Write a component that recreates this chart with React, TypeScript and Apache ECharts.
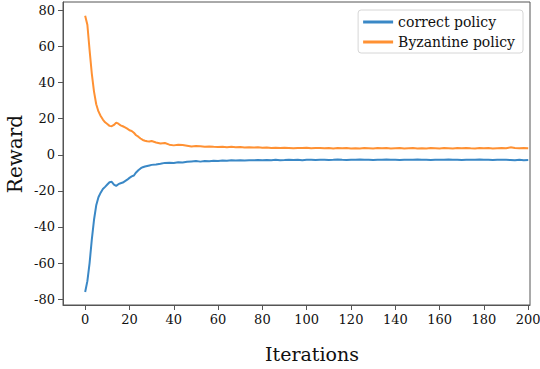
import React, { useEffect, useRef } from "react";
import * as echarts from "echarts";

const iterations = [
  0, 1, 2, 3, 4, 5, 6, 7, 8, 9, 10, 11, 12, 13, 14, 15, 16, 17, 18, 19, 20,
  21, 22, 23, 24, 25, 26, 27, 28, 29, 30, 32, 34, 36, 38, 40, 42, 44, 46, 48,
  50, 52, 54, 56, 58, 60, 62, 64, 66, 68, 70, 72, 74, 76, 78, 80, 82, 84, 86,
  88, 90, 92, 94, 96, 98, 100, 102, 104, 106, 108, 110, 112, 114, 116, 118,
  120, 122, 124, 126, 128, 130, 132, 134, 136, 138, 140, 142, 144, 146, 148,
  150, 152, 154, 156, 158, 160, 162, 164, 166, 168, 170, 172, 174, 176, 178,
  180, 182, 184, 186, 188, 190, 192, 194, 196, 198, 200,
];

const correctPolicy = [
  -76, -70, -60, -47, -36, -28, -23.5, -21, -19, -17.8, -16.5, -15.2, -15.0,
  -16.5, -17.2, -16.3, -15.8, -15.4, -14.6, -13.8, -12.8, -12, -11.5, -9.8,
  -8.6, -7.6, -6.9, -6.5, -6.2, -5.9, -5.6, -5.4, -5.0, -4.5, -4.4, -4.6,
  -4.2, -4.3, -3.9, -3.7, -3.5, -3.8, -3.4, -3.6, -3.3, -3.5, -3.2, -3.3,
  -3.0, -3.2, -3.1, -3.2, -3.0, -3.1, -2.9, -3.1, -2.9, -3.0, -2.8, -3.0,
  -2.9, -2.7, -2.9, -2.8, -3.0, -2.8, -2.7, -2.9, -2.8, -2.7, -2.9, -2.8,
  -2.6, -2.8, -2.9, -2.7, -2.8, -2.6, -2.8, -2.7, -2.9, -2.7, -2.8, -2.6,
  -2.8, -2.7, -2.9, -2.7, -2.8, -2.7, -2.6, -2.8, -2.7, -2.9, -2.8, -2.7,
  -2.8, -2.6, -2.8, -2.7, -2.9, -2.8, -2.7, -2.8, -2.6, -2.8, -2.7, -2.9,
  -2.8, -2.7, -2.8, -2.9, -3.1, -2.8, -3.0, -2.9,
];

const byzantinePolicy = [
  77, 72, 58, 45, 35, 28, 24, 21.5, 19.5, 18, 17, 16, 15.8, 16.5, 17.8, 17.2,
  16.3, 15.8, 15.2, 14.5, 13.6, 13.2, 12.2, 10.8, 10, 9, 8.2, 7.8, 7.5, 7.3,
  7.6, 6.8, 6.2, 6.5, 5.6, 5.2, 5.6, 5.4, 5.0, 4.6, 4.8, 4.7, 4.4, 4.6, 4.4,
  4.3, 4.5, 4.2, 4.4, 4.1, 4.3, 4.0, 4.2, 4.0, 4.1, 3.9, 4.0, 3.8, 3.9, 3.7,
  3.9, 3.8, 3.6, 3.8, 3.7, 3.9, 3.6, 3.7, 3.8, 3.6, 3.7, 3.5, 3.7, 3.6, 3.8,
  3.5, 3.6, 3.5, 3.7, 3.6, 3.5, 3.7, 3.6, 3.8, 3.5, 3.6, 3.7, 3.5, 3.6, 3.7,
  3.5, 3.6, 3.5, 3.7, 3.6, 3.5, 3.7, 3.6, 3.5, 3.7, 3.6, 3.8, 3.6, 3.5, 3.7,
  3.6, 3.7, 3.5, 3.6, 3.7, 3.6, 4.1, 3.7, 3.6, 3.7, 3.6,
];

const xTicks = [0, 20, 40, 60, 80, 100, 120, 140, 160, 180, 200];
const yTicks = [-80, -60, -40, -20, 0, 20, 40, 60, 80];

const FONT = "DejaVu Serif";
const AXIS_COLOR = "#555";

export default function App() {
  const ref = useRef<HTMLDivElement>(null);

  useEffect(() => {
    if (!ref.current) return;
    const chart = echarts.init(ref.current, null, { renderer: "svg" });
    const pairs = (ys: number[]) => iterations.map((x, i) => [x, ys[i]]);
    chart.setOption({
      animation: false,
      backgroundColor: "#fff",
      grid: {
        left: 63,
        top: 2,
        right: 10,
        bottom: 64,
        containLabel: false,
        outerBoundsMode: "none",
        show: true,
        borderColor: AXIS_COLOR,
        borderWidth: 1,
        backgroundColor: "transparent",
      },
      legend: {
        orient: "vertical",
        right: 17,
        top: 10,
        padding: [5, 8, 4, 5],
        itemGap: 6,
        itemWidth: 30,
        itemHeight: 3,
        borderColor: "#d6d6d6",
        borderWidth: 1,
        borderRadius: 3,
        icon: "rect",
        textStyle: { fontFamily: FONT, fontSize: 14, color: "#111" },
        data: ["correct policy", "Byzantine policy"],
      },
      xAxis: {
        type: "value",
        min: -10,
        max: 200.8,
        splitLine: { show: false },
        axisLine: { show: true, onZero: false, lineStyle: { color: AXIS_COLOR } },
        axisTick: {
          show: true,
          length: 5,
          customValues: xTicks,
          lineStyle: { color: AXIS_COLOR },
        },
        axisLabel: {
          customValues: xTicks,
          fontFamily: FONT,
          fontSize: 13,
          color: "#111",
          margin: 8,
          hideOverlap: false,
        },
      },
      yAxis: {
        type: "value",
        min: -83.2,
        max: 84.6,
        splitLine: { show: false },
        axisLine: { show: true, onZero: false, lineStyle: { color: AXIS_COLOR } },
        axisTick: {
          show: true,
          length: 5,
          customValues: yTicks,
          lineStyle: { color: AXIS_COLOR },
        },
        axisLabel: {
          customValues: yTicks,
          fontFamily: FONT,
          fontSize: 13,
          color: "#111",
          margin: 8,
        },
      },
      graphic: [
        {
          type: "text",
          x: 312,
          y: 354,
          style: {
            text: "Iterations",
            fontFamily: FONT,
            fontSize: 19,
            fill: "#111",
            align: "center",
            verticalAlign: "middle",
          },
        },
        {
          type: "text",
          x: 15,
          y: 154,
          rotation: Math.PI / 2,
          style: {
            text: "Reward",
            fontFamily: FONT,
            fontSize: 20,
            fill: "#111",
            align: "center",
            verticalAlign: "middle",
          },
        },
      ],
      series: [
        {
          name: "correct policy",
          type: "line",
          data: pairs(correctPolicy),
          showSymbol: false,
          smooth: false,
          lineStyle: { width: 2, color: "#3a88c6" },
          itemStyle: { color: "#3a88c6" },
        },
        {
          name: "Byzantine policy",
          type: "line",
          data: pairs(byzantinePolicy),
          showSymbol: false,
          smooth: false,
          lineStyle: { width: 2, color: "#ff9133" },
          itemStyle: { color: "#ff9133" },
        },
      ],
    });
    return () => chart.dispose();
  }, []);

  return (
    <div
      ref={ref}
      style={{ position: "fixed", left: 0, top: 0, width: 540, height: 369 }}
    />
  );
}
